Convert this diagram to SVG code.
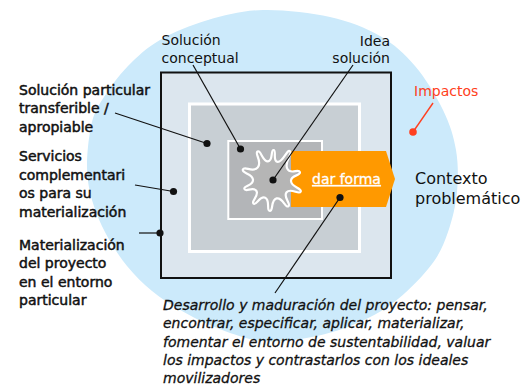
<svg xmlns="http://www.w3.org/2000/svg" width="526" height="391" viewBox="0 0 526 391">
<style>
.t{font-family:"DejaVu Sans",sans-serif;font-size:14px;fill:#111}
.big{font-size:16px}
.b{stroke:#111;stroke-width:0.5px}
.it{font-style:italic;stroke:#111;stroke-width:0.3px}
.ln{stroke:#111;stroke-width:1.2;fill:none}
.dot{fill:#111}
</style>
<rect width="526" height="391" fill="#fff"/>
<g id="contexto">
<path fill="#cceafb" d="M263,10 C283.3,9.5 310.5,12.7 330,17 C349.5,21.3 365.8,27.8 380,36 C394.2,44.2 404.5,53.7 415,66 C425.5,78.3 436.2,96 443,110 C449.8,124 453.7,136.3 456,150 C458.3,163.7 458.3,178.3 457,192 C455.7,205.7 452.2,220 448,232 C443.8,244 440.3,252.8 432,264 C423.7,275.2 410,289.3 398,299 C386,308.7 374.3,315.7 360,322 C345.7,328.3 328.3,333.8 312,337 C295.7,340.2 277.8,342.5 262,341 C246.2,339.5 230.3,333 217,328 C203.7,323 192.8,317.2 182,311 C171.2,304.8 161.2,298.5 152,291 C142.8,283.5 134.7,275.5 127,266 C119.3,256.5 111.8,245 106,234 C100.2,223 95.2,211.5 92,200 C88.8,188.5 87,178 87,165 C87,152 89.2,133.3 92,122 C94.8,110.7 98,106.3 104,97 C110,87.7 118.7,75.5 128,66 C137.3,56.5 146.7,47.7 160,40 C173.3,32.3 190.8,25 208,20 C225.2,15 242.7,10.5 263,10 Z"/>
<text class="t big" x="415" y="184">Contexto</text>
<text class="t big" x="415" y="204">problemático</text>
</g>
<g id="materializacion">
<rect x="161" y="72.5" width="230" height="205.5" fill="#dce6ee" stroke="#111" stroke-width="2"/>
</g>
<g id="solucion-particular">
<rect x="189.5" y="104" width="170" height="147.5" fill="#c8cfd4" stroke="#fff" stroke-width="3"/>
</g>
<g id="solucion-conceptual">
<rect x="228.3" y="141" width="93.7" height="78" fill="#b3b5b8" stroke="#fff" stroke-width="2"/>
</g>
<g id="dar-forma">
<path d="M291,151 L386,151 L395,179 L386,207 L291,207 Z" fill="#ff9900"/>
<text class="t" x="312" y="184" style="fill:#fff;stroke:#fff;stroke-width:0.3px" text-decoration="underline">dar forma</text>
</g>
<g id="idea-solucion">
<path d="M257.5,151.5 C260.9,149.5 262.6,161.9 268,161.4 C273.4,160.9 270.4,149.8 273.6,150 C276.8,150.2 272.2,161.5 277.7,161.9 C283.2,162.3 286.8,149 290,151.2 C293.2,153.4 283.9,161.7 287.2,168.6 C290.5,175.5 298.6,167.9 299.9,172 C301.2,176.1 290.7,174.5 291,181 C291.3,187.5 302.2,187.9 300.7,191.6 C299.2,195.3 290.7,187.3 286.6,192.2 C282.5,197.1 291.7,204.2 288.4,206.3 C285.1,208.4 282.8,196.9 276.6,198.4 C270.4,199.9 273.6,211.1 269.8,210.9 C266,210.7 270.6,200.1 265.2,197.7 C259.8,195.3 256.4,205.9 253.5,203.6 C250.6,201.3 259.4,195.8 256.4,190.9 C253.4,186 245.5,192.7 244.4,189 C243.3,185.3 253.5,186.2 253,179.7 C252.5,173.2 241.3,173.5 242.9,169.4 C244.5,165.3 252.9,173.4 257.8,167.4 C262.7,161.4 254.1,153.5 257.5,151.5 Z" fill="#b5b5b5" stroke="#fff" stroke-width="2.2" stroke-linejoin="round"/>
</g>
<g id="labels">
<text class="t" x="161.5" y="45">Solución</text>
<text class="t" x="161.5" y="63">conceptual</text>
<text class="t" x="390" y="46" text-anchor="end">Idea</text>
<text class="t" x="390" y="63" text-anchor="end">solución</text>
<text class="t" x="414" y="96" style="fill:#ff4020">Impactos</text>
<text class="t b" x="19" y="95">Solución particular</text>
<text class="t b" x="19" y="113">transferible /</text>
<text class="t b" x="19" y="132">apropiable</text>
<text class="t b" x="19" y="161">Servicios</text>
<text class="t b" x="19" y="180">complementari</text>
<text class="t b" x="19" y="198">os para su</text>
<text class="t b" x="19" y="217">materialización</text>
<text class="t b" x="19" y="250">Materialización</text>
<text class="t b" x="19" y="268">del proyecto</text>
<text class="t b" x="19" y="287">en el entorno</text>
<text class="t b" x="19" y="305">particular</text>
<text class="t it" x="163" y="310">Desarrollo y maduración del proyecto: pensar,</text>
<text class="t it" x="163" y="328">encontrar, especificar, aplicar, materializar,</text>
<text class="t it" x="163" y="346.5">fomentar el entorno de sustentabilidad, valuar</text>
<text class="t it" x="163" y="365">los impactos y contrastarlos con los ideales</text>
<text class="t it" x="163" y="383">movilizadores</text>
</g>
<g id="connectors">
<line class="ln" x1="193" y1="65" x2="240.5" y2="149"/>
<circle class="dot" cx="240.5" cy="149" r="3.6"/>
<line class="ln" x1="353" y1="65" x2="273" y2="180"/>
<circle class="dot" cx="273" cy="180" r="3.6"/>
<line class="ln" x1="115" y1="113" x2="207" y2="143.5"/>
<circle class="dot" cx="207" cy="143.5" r="3.6"/>
<line class="ln" x1="135" y1="185" x2="173.5" y2="191.5"/>
<circle class="dot" cx="173.5" cy="191.5" r="3.6"/>
<line class="ln" x1="139" y1="233" x2="160" y2="233"/>
<circle class="dot" cx="160" cy="233" r="3.6"/>
<line class="ln" x1="340" y1="197.5" x2="275" y2="293"/>
<circle class="dot" cx="340" cy="197.5" r="3.6"/>
<line x1="433" y1="103" x2="413" y2="132" stroke="#ff4020" stroke-width="1.4"/>
<circle cx="413" cy="132" r="3.8" fill="#ff4020"/>
</g>
</svg>
